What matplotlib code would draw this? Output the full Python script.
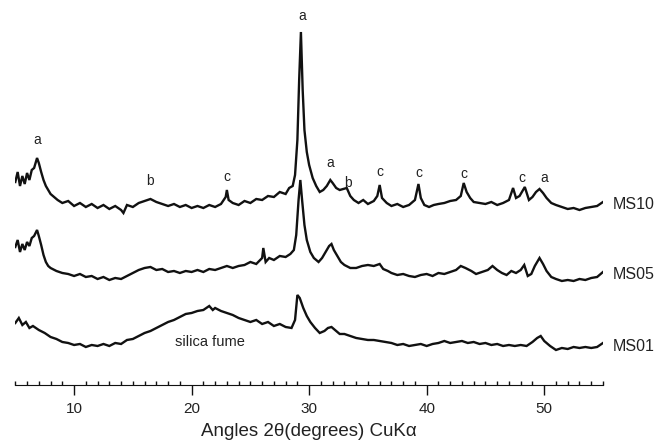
import matplotlib

matplotlib.use("Agg")
import matplotlib.pyplot as plt
from matplotlib.ticker import MultipleLocator

# XRD patterns (intensity in arbitrary units)
ms10_angle = [
    5.0, 5.2, 5.4, 5.6, 5.8, 6.0, 6.2, 6.4, 6.6, 6.85, 7.0, 7.2, 7.4, 7.6, 7.8, 8.0, 8.3, 8.6,
    9.0, 9.5, 10.0, 10.5, 11.0, 11.5, 12.0, 12.5, 13.0, 13.5, 14.0, 14.2, 14.5, 15.0, 15.5,
    16.0, 16.5, 17.0, 17.5, 18.0, 18.5, 19.0, 19.5, 20.0, 20.5, 21.0, 21.5, 22.0, 22.5, 22.9,
    23.0, 23.15, 23.5, 24.0, 24.5, 25.0, 25.5, 26.0, 26.5, 27.0, 27.5, 28.0, 28.3, 28.6, 28.8,
    29.0, 29.15, 29.3, 29.45, 29.6, 29.8, 30.0, 30.3, 30.6, 30.9, 31.2, 31.5, 31.8, 32.0, 32.3,
    32.6, 32.9, 33.2, 33.5, 33.8, 34.2, 34.6, 35.0, 35.5, 35.8, 36.0, 36.2, 36.6, 37.0, 37.5,
    38.0, 38.5, 39.0, 39.3, 39.5, 39.8, 40.2, 40.6, 41.0, 41.5, 42.0, 42.5, 42.9, 43.15, 43.4,
    43.7, 44.0, 44.5, 45.0, 45.5, 46.0, 46.5, 47.0, 47.35, 47.6, 47.9, 48.35, 48.7, 49.0, 49.3,
    49.6, 49.9, 50.2, 50.6, 51.0, 51.5, 52.0, 52.5, 53.0, 53.5, 54.0, 54.5, 55.0,
]
ms10_counts = [
    203, 213, 199, 209, 201, 212, 205, 215, 217, 227, 222, 213, 205, 199, 195, 191, 188, 185,
    182, 184, 179, 182, 178, 181, 177, 180, 176, 179, 175, 172, 180, 178, 182,
    184, 186, 183, 181, 179, 181, 178, 180, 177, 179, 177, 180, 178, 181, 188,
    195, 185, 182, 180, 184, 182, 186, 185, 189, 188, 193, 191, 197, 199, 210,
    245, 305, 353, 295, 255, 233, 220, 207, 199, 193, 195, 199, 205, 202, 197,
    195, 196, 197, 189, 185, 182, 185, 181, 184, 189, 200, 187, 182, 179, 181,
    178, 180, 185, 201, 187, 180, 178, 180, 181, 182, 184, 185, 189, 202, 193,
    187, 183, 182, 181, 183, 180, 182, 185, 197, 187, 189, 198, 185, 188, 193,
    196, 192, 187, 182, 180, 178, 176, 177, 175, 177, 178, 179, 183,
]

ms05_angle = [
    5.0, 5.2, 5.4, 5.6, 5.8, 6.0, 6.2, 6.4, 6.6, 6.85, 7.0, 7.2, 7.4, 7.6, 7.8, 8.0, 8.5, 9.0,
    9.5, 10.0, 10.5, 11.0, 11.5, 12.0, 12.5, 13.0, 13.5, 14.0, 14.5, 15.0, 15.5, 16.0, 16.5,
    17.0, 17.5, 18.0, 18.5, 19.0, 19.5, 20.0, 20.5, 21.0, 21.5, 22.0, 22.5, 23.0, 23.5, 24.0,
    24.5, 25.0, 25.5, 26.0, 26.1, 26.3, 26.6, 27.0, 27.5, 28.0, 28.4, 28.7, 28.9, 29.1, 29.25,
    29.4, 29.6, 29.8, 30.1, 30.4, 30.8, 31.1, 31.4, 31.7, 31.9, 32.1, 32.4, 32.7, 33.0, 33.5,
    34.0, 34.5, 35.0, 35.5, 36.0, 36.3, 36.7, 37.0, 37.5, 38.0, 38.5, 39.0, 39.5, 40.0, 40.5,
    41.0, 41.5, 42.0, 42.5, 42.9, 43.3, 43.8, 44.2, 44.7, 45.2, 45.6, 46.0, 46.4, 46.8, 47.2,
    47.6, 48.0, 48.3, 48.6, 48.9, 49.2, 49.6, 49.9, 50.2, 50.6, 51.0, 51.5, 52.0, 52.5, 53.0,
    53.5, 54.0, 54.5, 55.0,
]
ms05_counts = [
    138, 145, 133, 141, 135, 143, 139, 147, 149, 155, 149, 140, 130, 123, 119, 117, 114, 112,
    111, 109, 111, 108, 109, 106, 108, 105, 107, 106, 109, 112, 115, 117, 118,
    115, 116, 113, 114, 112, 114, 113, 115, 113, 116, 115, 117, 119, 117, 119,
    120, 123, 121, 127, 137, 123, 127, 125, 129, 128, 131, 135, 150, 185, 205,
    185, 160, 145, 133, 127, 123, 127, 133, 139, 141, 135, 129, 123, 120, 117,
    117, 119, 120, 119, 121, 116, 114, 112, 110, 111, 109, 108, 110, 111, 109,
    112, 111, 113, 115, 119, 117, 114, 111, 113, 115, 119, 115, 112, 110, 114,
    112, 115, 120, 109, 111, 119, 127, 121, 114, 108, 106, 104, 105, 104, 106,
    105, 107, 108, 113,
]

ms01_angle = [
    5.0, 5.3, 5.6, 5.9, 6.2, 6.5, 7.0, 7.5, 8.0, 8.5, 9.0, 9.5, 10.0, 10.5, 11.0, 11.5, 12.0,
    12.5, 13.0, 13.5, 14.0, 14.5, 15.0, 15.5, 16.0, 16.5, 17.0, 17.5, 18.0, 18.5, 19.0, 19.5,
    20.0, 20.5, 21.0, 21.5, 21.8, 22.0, 22.5, 23.0, 23.5, 24.0, 24.5, 25.0, 25.5, 26.0, 26.5,
    27.0, 27.5, 28.0, 28.5, 28.8, 29.0, 29.2, 29.5, 29.8, 30.1, 30.5, 30.9, 31.3, 31.6, 31.9,
    32.2, 32.6, 33.0, 33.5, 34.0, 34.5, 35.0, 35.5, 36.0, 36.5, 37.0, 37.5, 38.0, 38.5, 39.0,
    39.5, 40.0, 40.5, 41.0, 41.5, 42.0, 42.5, 43.0, 43.5, 44.0, 44.5, 45.0, 45.5, 46.0, 46.5,
    47.0, 47.5, 48.0, 48.5, 49.0, 49.4, 49.7, 50.0, 50.5, 51.0, 51.5, 52.0, 52.5, 53.0, 53.5,
    54.0, 54.5, 55.0,
]
ms01_counts = [
    62, 67, 60, 63, 57, 59, 55, 52, 48, 46, 43, 42, 40, 41, 38, 40, 39,
    41, 39, 42, 41, 45, 46, 49, 52, 54, 57, 60, 63, 65, 68, 71,
    72, 74, 75, 79, 75, 77, 74, 72, 70, 67, 65, 63, 65, 61, 63,
    59, 61, 58, 57, 65, 90, 87, 77, 69, 63, 57, 52, 54, 57, 58,
    55, 51, 51, 49, 47, 46, 45, 45, 44, 43, 42, 40, 41, 39, 40,
    41, 39, 41, 42, 44, 42, 43, 44, 42, 43, 41, 42, 40, 41, 39,
    40, 39, 40, 39, 43, 47, 49, 44, 39, 35, 37, 36, 38, 37, 38,
    37, 38, 42,
]

# phase markers above the MS10 pattern
peak_letters = ["a", "b", "c", "a", "a", "b", "c", "c", "c", "c", "a"]
peak_angles = [6.85, 16.46, 23.0, 29.4, 31.8, 33.3, 36.0, 39.3, 43.2, 48.1, 50.0]
peak_heights = [245, 204, 208, 369, 222, 202, 213, 212, 211, 207, 207]

sample_names = ["MS10", "MS05", "MS01"]
sample_label_heights = [180, 110, 38]

INK = "#111111"
TEXT = "#222222"
FONT = ["Liberation Sans", "DejaVu Sans"]

fig = plt.figure(figsize=(6.54, 4.46), dpi=100)
ax = fig.add_axes([0.0234, 0.1368, 0.8986, 0.8632])

for angle, counts in [(ms10_angle, ms10_counts), (ms05_angle, ms05_counts), (ms01_angle, ms01_counts)]:
    ax.plot(angle, counts, color=INK, linewidth=1.7, solid_joinstyle="miter")

for letter, x, y in zip(peak_letters, peak_angles, peak_heights):
    ax.text(x, y, letter, ha="center", va="center", fontsize=10, family=FONT, color=TEXT)

for name, y in zip(sample_names, sample_label_heights):
    ax.text(55.8, y, name, ha="left", va="center", fontsize=11.5, family=FONT,
            color=TEXT, clip_on=False)

ax.text(21.6, 43, "silica fume", ha="center", va="center", fontsize=10.5, family=FONT, color=TEXT)

ax.set_xlim(5, 55)
ax.set_ylim(0, 385)
for side in ["left", "right", "top"]:
    ax.spines[side].set_visible(False)
ax.spines["bottom"].set_color(INK)
ax.set_yticks([])
ax.xaxis.set_major_locator(MultipleLocator(10))
ax.xaxis.set_minor_locator(MultipleLocator(1))
ax.tick_params(axis="x", which="major", direction="out", length=7, width=1, pad=5,
               labelsize=11, colors=INK)
ax.tick_params(axis="x", which="minor", direction="in", length=3, width=1, colors=INK)
for lab in ax.get_xticklabels():
    lab.set_family(FONT)
    lab.set_color(TEXT)

ax.set_xlabel("Angles 2θ(degrees) CuKα", fontsize=13.5, family=FONT, color=TEXT)
ax.xaxis.set_label_coords(0.5, -0.1)

fig.savefig("out.png", dpi=100)
plt.close(fig)
